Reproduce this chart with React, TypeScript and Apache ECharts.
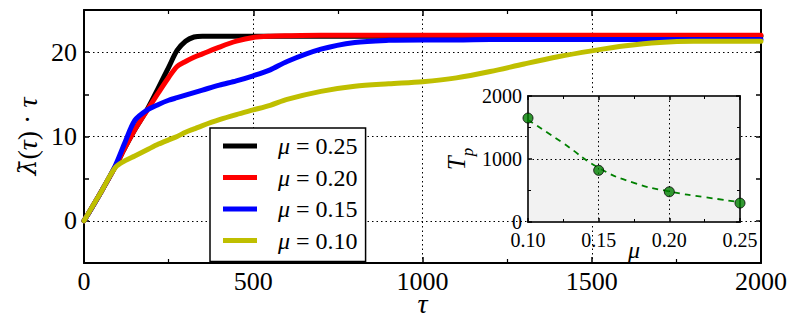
import React, { useEffect, useRef } from 'react';
import * as echarts from 'echarts';

const SERIF = "'Liberation Serif', 'DejaVu Serif', 'Times New Roman', serif";
const MARKFONT = "'DejaVu Serif', 'Liberation Serif', serif";

// Main panel: lambda-bar(tau) * tau against tau
const tau = [0, 50, 92, 120, 150, 185, 220, 250, 275, 300, 325, 350, 400, 450, 500, 550, 600, 700, 800, 900, 1000, 1100, 1200, 1300, 1400, 1500, 1600, 1700, 1800, 1900, 2000];
const mu025 = [0, 3.4, 6.4, 8.6, 10.8, 13.1, 15.8, 18.2, 20.2, 21.3, 21.8, 21.9, 21.9, 21.9, 21.9, 21.9, 21.9, 21.9, 21.9, 21.9, 21.9, 21.9, 21.9, 21.9, 21.9, 21.9, 21.9, 21.9, 21.9, 21.9, 21.9];
const mu020 = [0, 3.4, 6.4, 8.6, 10.8, 13.0, 15.2, 17.0, 18.3, 18.9, 19.4, 19.8, 20.6, 21.3, 21.75, 21.9, 21.95, 22.0, 22.0, 22.0, 22.0, 22.0, 22.0, 22.0, 22.0, 22.0, 22.0, 22.0, 22.0, 22.0, 22.0];
const mu015 = [0, 3.4, 6.5, 9.2, 11.9, 13.1, 13.8, 14.3, 14.6, 14.9, 15.2, 15.5, 16.1, 16.6, 17.2, 17.9, 18.9, 20.35, 21.15, 21.4, 21.45, 21.45, 21.5, 21.5, 21.5, 21.5, 21.5, 21.5, 21.5, 21.5, 21.5];
const mu010 = [0, 3.4, 6.3, 7.1, 7.7, 8.4, 9.1, 9.6, 10.0, 10.5, 10.9, 11.3, 12.0, 12.6, 13.15, 13.7, 14.4, 15.35, 15.95, 16.25, 16.5, 16.95, 17.7, 18.6, 19.45, 20.15, 20.75, 21.15, 21.3, 21.3, 21.3];
const seriesNames = ['μ = 0.25', 'μ = 0.20', 'μ = 0.15', 'μ = 0.10'];
const seriesColors = ['#000000', '#ff0000', '#0000ff', '#bfbf00'];
const yGridValues = [0, 10, 20];

// Inset: T_p against mu
const muPoints = [0.10, 0.15, 0.20, 0.25];
const tpPoints = [1650, 820, 480, 300];
const fitMu = [0.10, 0.125, 0.15, 0.175, 0.20, 0.225, 0.25];
const fitTp = [1620, 1250, 860, 620, 485, 395, 315];

const DOT: [number, number] = [1.5, 3];

function buildOption() {
  const valuesList = [mu025, mu020, mu015, mu010];
  const mainSeries = valuesList.map((vals, i) => ({
    name: seriesNames[i],
    type: 'line',
    xAxisIndex: 0,
    yAxisIndex: 0,
    data: tau.map((t, j) => [t, vals[j]]),
    smooth: 0.3,
    symbol: 'none',
    lineStyle: { color: seriesColors[i], width: 5, cap: 'round', join: 'round' },
    itemStyle: { color: seriesColors[i] },
    z: 2,
  }));

  const axisLineMain = { show: true, onZero: false, lineStyle: { color: '#000', width: 2 } };
  const axisLineInset = { show: true, onZero: false, lineStyle: { color: '#333', width: 2 } };
  const plain = (v: number) => String(Math.round(v));

  return {
    animation: false,
    backgroundColor: '#fff',
    textStyle: { fontFamily: SERIF },
    grid: [
      { left: 84, top: 10, width: 677, height: 253, containLabel: false, outerBoundsMode: 'none' },
      {
        left: 528, top: 96, width: 212, height: 126, containLabel: false, outerBoundsMode: 'none',
        show: true, backgroundColor: '#f2f2f2', borderColor: '#333', borderWidth: 2, z: 3,
      },
    ],
    xAxis: [
      {
        type: 'value', gridIndex: 0, position: 'bottom', min: 0, max: 2000, interval: 500,
        axisLine: axisLineMain,
        axisTick: { show: true, inside: true, length: 6, lineStyle: { color: '#000', width: 1.5 } },
        minorTick: { show: true, splitNumber: 2, length: 4, lineStyle: { color: '#000', width: 1.2 } },
        axisLabel: { color: '#000', fontFamily: SERIF, fontSize: 26, margin: 5, formatter: plain },
        splitLine: { show: true, lineStyle: { color: '#000', width: 1, type: DOT } },
        name: 'τ', nameLocation: 'middle', nameGap: 26, nameMoveOverlap: false,
        nameTextStyle: { color: '#000', fontFamily: SERIF, fontSize: 28, fontStyle: 'italic' },
      },
      {
        type: 'value', gridIndex: 0, position: 'top', min: 0, max: 2000, interval: 500,
        axisLine: axisLineMain,
        axisTick: { show: true, inside: true, length: 6, lineStyle: { color: '#000', width: 1.5 } },
        minorTick: { show: true, splitNumber: 2, length: 4, lineStyle: { color: '#000', width: 1.2 } },
        axisLabel: { show: false },
        splitLine: { show: false },
      },
      {
        type: 'value', gridIndex: 1, position: 'bottom', min: 0.1, max: 0.25, interval: 0.05, z: 4,
        axisLine: axisLineInset,
        axisTick: { show: true, inside: true, length: 4, lineStyle: { color: '#000', width: 1.5 } },
        minorTick: { show: true, splitNumber: 2, length: 3, lineStyle: { color: '#000', width: 1 } },
        axisLabel: { color: '#000', fontFamily: SERIF, fontSize: 20, margin: 8, formatter: (v: number) => v.toFixed(2) },
        splitLine: { show: true, lineStyle: { color: '#000', width: 1, type: DOT } },
        name: 'μ', nameLocation: 'middle', nameGap: 16, nameMoveOverlap: false,
        nameTextStyle: { color: '#000', fontFamily: SERIF, fontSize: 24, fontStyle: 'italic' },
      },
      {
        type: 'value', gridIndex: 1, position: 'top', min: 0.1, max: 0.25, interval: 0.05, z: 4,
        axisLine: axisLineInset,
        axisTick: { show: true, inside: true, length: 4, lineStyle: { color: '#000', width: 1.5 } },
        minorTick: { show: true, splitNumber: 2, length: 3, lineStyle: { color: '#000', width: 1 } },
        axisLabel: { show: false },
        splitLine: { show: false },
      },
    ],
    yAxis: [
      {
        type: 'value', gridIndex: 0, position: 'left', min: -5, max: 25, interval: 5,
        axisLine: axisLineMain,
        axisTick: { show: true, inside: true, length: 5, lineStyle: { color: '#000', width: 1.5 } },
        axisLabel: {
          color: '#000', fontFamily: SERIF, fontSize: 26, margin: 7,
          formatter: (v: number) => (Math.round(v) % 10 === 0 ? String(Math.round(v)) : ''),
        },
        splitLine: { show: false },
        name: '{l|λ̄}{r|(}{i|τ}{r|) · }{i|τ}', nameLocation: 'middle', nameRotate: 90, nameGap: 43,
        nameMoveOverlap: false,
        nameTextStyle: {
          color: '#000', fontFamily: SERIF, fontSize: 28,
          rich: {
            l: { fontFamily: MARKFONT, fontSize: 25, fontStyle: 'italic', color: '#000' },
            i: { fontFamily: SERIF, fontSize: 28, fontStyle: 'italic', color: '#000' },
            r: { fontFamily: SERIF, fontSize: 28, color: '#000' },
          },
        },
      },
      {
        type: 'value', gridIndex: 0, position: 'right', min: -5, max: 25, interval: 5,
        axisLine: axisLineMain,
        axisTick: { show: true, inside: true, length: 5, lineStyle: { color: '#000', width: 1.5 } },
        axisLabel: { show: false },
        splitLine: { show: false },
      },
      {
        type: 'value', gridIndex: 1, position: 'left', min: 0, max: 2000, interval: 1000, z: 4,
        axisLine: axisLineInset,
        axisTick: { show: true, inside: true, length: 4, lineStyle: { color: '#000', width: 1.5 } },
        minorTick: { show: true, splitNumber: 2, length: 3, lineStyle: { color: '#000', width: 1 } },
        axisLabel: { color: '#000', fontFamily: SERIF, fontSize: 20, margin: 6, formatter: plain },
        splitLine: { show: true, lineStyle: { color: '#000', width: 1, type: DOT } },
        name: '{t|T}{s|p}', nameLocation: 'middle', nameRotate: 90, nameGap: 52, nameMoveOverlap: false,
        nameTextStyle: {
          color: '#000', fontFamily: SERIF, fontSize: 24,
          rich: {
            t: { fontFamily: SERIF, fontSize: 25, fontStyle: 'italic', color: '#000', verticalAlign: 'bottom', padding: [0, 0, 7, 0] },
            s: { fontFamily: SERIF, fontSize: 17, fontStyle: 'italic', color: '#000', verticalAlign: 'bottom' },
          },
        },
      },
      {
        type: 'value', gridIndex: 1, position: 'right', min: 0, max: 2000, interval: 1000, z: 4,
        axisLine: axisLineInset,
        axisTick: { show: true, inside: true, length: 4, lineStyle: { color: '#000', width: 1.5 } },
        minorTick: { show: true, splitNumber: 2, length: 3, lineStyle: { color: '#000', width: 1 } },
        axisLabel: { show: false },
        splitLine: { show: false },
      },
    ],
    legend: {
      data: seriesNames,
      left: 210,
      top: 128,
      orient: 'vertical',
      icon: 'rect',
      itemWidth: 34,
      itemHeight: 5,
      itemGap: 7.5,
      padding: [6, 8, 9, 13],
      borderColor: '#000',
      borderWidth: 1.5,
      borderRadius: 0,
      backgroundColor: '#fff',
      selectedMode: false,
      z: 10,
      formatter: (name: string) => '{g|}{i|μ}{r|' + name.slice(1) + '}',
      textStyle: {
        color: '#000', fontFamily: SERIF, fontSize: 24, lineHeight: 22,
        rich: {
          g: { width: 16 },
          i: { fontFamily: SERIF, fontSize: 24, fontStyle: 'italic', color: '#000' },
          r: { fontFamily: SERIF, fontSize: 24, color: '#000' },
        },
      },
    },
    series: [
      {
        name: 'grid-y',
        type: 'line',
        xAxisIndex: 0,
        yAxisIndex: 0,
        data: [],
        z: 1,
        markLine: {
          silent: true,
          z: 1,
          symbol: ['none', 'none'],
          label: { show: false },
          lineStyle: { color: '#000', width: 1, type: DOT },
          data: yGridValues.map((v) => ({ yAxis: v })),
        },
      },
      ...mainSeries,
      {
        name: 'fit',
        type: 'line',
        xAxisIndex: 2,
        yAxisIndex: 2,
        data: fitMu.map((m, i) => [m, fitTp[i]]),
        smooth: true,
        symbol: 'none',
        lineStyle: { color: '#008000', width: 1.8, type: [6, 5] },
        z: 5,
      },
      {
        name: 'Tp',
        type: 'scatter',
        xAxisIndex: 2,
        yAxisIndex: 2,
        data: muPoints.map((m, i) => [m, tpPoints[i]]),
        symbol: 'circle',
        symbolSize: 10,
        itemStyle: { color: '#008000', borderColor: '#000', borderWidth: 1 },
        z: 6,
      },
    ],
  };
}

export default function App() {
  const ref = useRef<HTMLDivElement>(null);
  useEffect(() => {
    if (!ref.current) return;
    const chart = echarts.init(ref.current, null, { renderer: 'svg' });
    chart.setOption(buildOption() as any);
    return () => chart.dispose();
  }, []);
  return (
    <div
      ref={ref}
      style={{ position: 'fixed', left: 0, top: 0, width: 798, height: 320, background: '#fff' }}
    />
  );
}
